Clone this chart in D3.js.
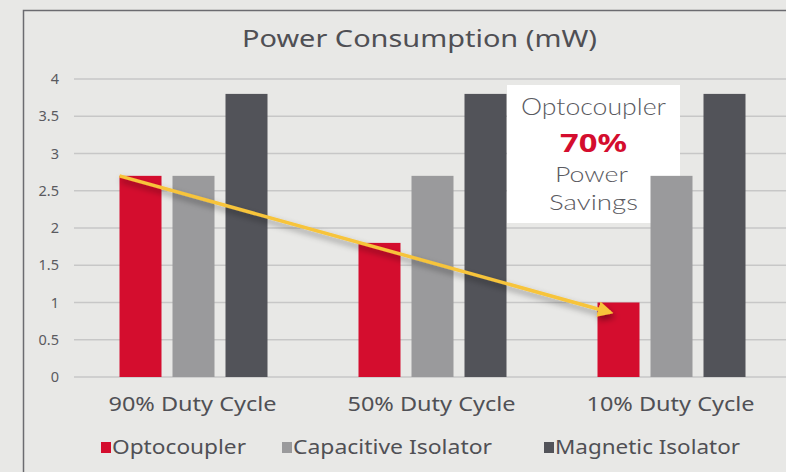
<!DOCTYPE html>
<html><head><meta charset="utf-8">
<script src="https://cdn.jsdelivr.net/npm/d3@7"></script>
<style>html,body{margin:0;padding:0;background:#e8e8e6;}svg{display:block;}</style>
</head><body>
<script>
const categories = ["90% Duty Cycle", "50% Duty Cycle", "10% Duty Cycle"];
const seriesNames = ["Optocoupler", "Capacitive Isolator", "Magnetic Isolator"];
const optocoupler = [2.7, 1.8, 1.0];
const capacitive = [2.7, 2.7, 2.7];
const magnetic = [3.8, 3.8, 3.8];
const yTicks = [0, 0.5, 1, 1.5, 2, 2.5, 3, 3.5, 4];
const yTickLabels = ["0", "0.5", "1", "1.5", "2", "2.5", "3", "3.5", "4"];
const colors = ["#d40d2e", "#9a9a9c", "#525359"];
const title = "Power Consumption (mW)";
const calloutLines = ["Optocoupler", "70%", "Power", "Savings"];

const W = 786, H = 472;
const FONT = "'Noto Sans', 'Open Sans', sans-serif";
const LIGHT = "Lato, 'Open Sans', sans-serif";
const svg = d3.select("body").append("svg").attr("width", W).attr("height", H);
const defs = svg.append("defs");
const f = defs.append("filter").attr("id","sh").attr("x","-20%").attr("y","-50%").attr("width","140%").attr("height","200%");
f.append("feDropShadow").attr("dx",2).attr("dy",4).attr("stdDeviation",3).attr("flood-color","#000").attr("flood-opacity",0.4);
defs.append("marker").attr("id","ah").attr("viewBox","0 0 10 10").attr("refX",8).attr("refY",5)
  .attr("markerWidth",4.5).attr("markerHeight",4.5).attr("orient","auto")
  .append("path").attr("d","M0,0 L10,5 L0,10 Z").attr("fill","#f7c43a");

function addText(g, x, yy, str, size, width, opts = {}) {
  const t = g.append("text").attr("x", x).attr("y", yy)
    .attr("text-anchor", opts.anchor || "middle")
    .attr("font-family", opts.family || FONT)
    .attr("font-size", size)
    .attr("font-weight", opts.weight || 400)
    .attr("fill", opts.fill || "#505055")
    .text(str);
  if (width) t.attr("textLength", width).attr("lengthAdjust", "spacingAndGlyphs");
  return t;
}

svg.append("rect").attr("width",W).attr("height",H).attr("fill","#e8e8e6");
// frame
svg.append("path").attr("d","M23.5,480 L23.5,10.5 L800,10.5").attr("fill","none").attr("stroke","#6b6b70").attr("stroke-width",1.5);

const x0 = d3.scaleBand().domain(categories).range([74, 791]).padding(0);
const y = d3.scaleLinear().domain([0, 4]).range([377, 79]);

addText(svg, 419.5, 47, title, 24, 355, {fill:"#4f4f54"});

const yAxis = d3.axisLeft(y).tickValues(yTicks).tickFormat((d,i)=>yTickLabels[i]).tickSize(0).tickPadding(15);
const ga = svg.append("g").attr("transform","translate(74,0)").call(yAxis);
ga.select(".domain").remove();
ga.selectAll("text").attr("font-family",FONT).attr("font-size",14.5).attr("fill","#5a5a5f");
svg.append("g").selectAll("line").data(yTicks).join("line")
  .attr("x1",74).attr("x2",786).attr("y1",d=>y(d)).attr("y2",d=>y(d))
  .attr("stroke","#c7c7c7").attr("stroke-width",1.5);

const series = [optocoupler, capacitive, magnetic];
const barW = 42, step = 53;
// callout box (drawn before bars so gray bar overlaps)
svg.append("rect").attr("x",507).attr("y",85).attr("width",173).attr("height",138).attr("fill","#ffffff");

series.forEach((vals, si) => {
  svg.append("g").selectAll("rect").data(vals).join("rect")
    .attr("x",(d,i)=>x0(categories[i]) + x0.bandwidth()/2 - 74 + si*step)
    .attr("y",d=>y(d)).attr("width",barW).attr("height",d=>y(0)-y(d))
    .attr("fill",colors[si]);
});

// callout lines
const cSpec = [
  {x:593.5, y:115, w:145, size:23, weight:300, fill:"#5a5a5f", family:LIGHT},
  {x:593.5, y:152, w:67, size:25, weight:700, fill:"#d40d2e", family:FONT},
  {x:591.5, y:182, w:73, size:22, weight:300, fill:"#5a5a5f", family:LIGHT},
  {x:593.5, y:210, w:89, size:22, weight:300, fill:"#5a5a5f", family:LIGHT}
];
const cg = svg.append("g");
calloutLines.forEach((s,i)=>{
  const c = cSpec[i];
  addText(cg, c.x, c.y, s, c.size, c.w, {family:c.family, weight:c.weight, fill:c.fill});
});

// arrow from top of first optocoupler bar to top of last
const ax1 = x0(categories[0]) + x0.bandwidth()/2 - 74, ay1 = y(optocoupler[0]);
const ax2 = x0(categories[2]) + x0.bandwidth()/2 - 74 + 13, ay2 = y(optocoupler[2]) + 10;
svg.append("line").attr("x1",ax1).attr("y1",ay1).attr("x2",ax2).attr("y2",ay2)
  .attr("stroke","#f7c43a").attr("stroke-width",3.5).attr("marker-end","url(#ah)").attr("filter","url(#sh)");

// x labels
const xg = svg.append("g");
categories.forEach(c => addText(xg, x0(c)+x0.bandwidth()/2 - 1, 411, c, 19, 168));

// legend
const legX = [101, 282, 544];
const legW = [134, 199, 185];
const lg = svg.append("g");
seriesNames.forEach((n,i)=>{
  lg.append("rect").attr("x",legX[i]).attr("y",442).attr("width",10).attr("height",11).attr("fill",colors[i]);
  addText(lg, legX[i]+11, 454, n, 19, legW[i], {anchor:"start"});
});
</script>
</body></html>
